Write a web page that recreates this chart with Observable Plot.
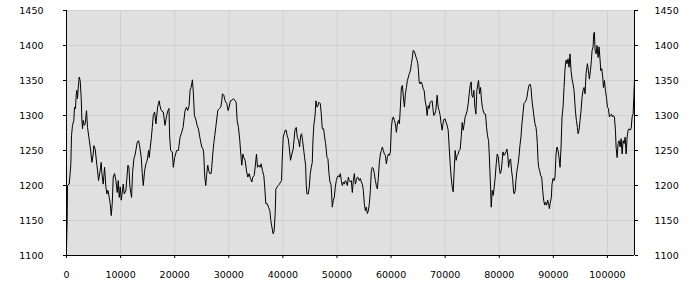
<!DOCTYPE html>
<html>
<head>
<meta charset="utf-8">
<script src="https://cdn.jsdelivr.net/npm/d3@7"></script>
<script src="https://cdn.jsdelivr.net/npm/@observablehq/plot@0.6"></script>
<style>
  html, body { margin: 0; padding: 0; background: #ffffff; }
  #chart { width: 700px; height: 300px; }
</style>
</head>
<body>
<div id="chart"></div>
<script>
const xTicks = [0, 10000, 20000, 30000, 40000, 50000, 60000, 70000, 80000, 90000, 100000];
const yTicks = [1100, 1150, 1200, 1250, 1300, 1350, 1400, 1450];

const xs = [
0,123,185,494,617,802,926,1111,1357,1481,
1666,1789,1913,2036,2160,2345,2530,2715,2838,2962,
3085,3270,3455,3702,3887,4134,4442,4689,4936,5059,
5306,5491,5738,5923,6170,6293,6417,6540,6787,7034,
7281,7466,7651,7898,8083,8268,8453,8638,8885,9132,
9378,9564,9749,9934,10119,10489,10674,10983,11353,11538,
11723,12032,12217,12463,12710,13080,13327,13512,13821,14006,
14191,14438,14685,14931,15178,15302,15487,15672,15857,16042,
16289,16536,16844,17153,17276,17523,17893,18202,18510,18757,
18942,19065,19250,19559,19744,19991,20361,
20683,20992,21300,21547,21732,21917,22164,22411,22657,22843,
23028,23151,23275,23460,23645,23891,24138,24385,24694,25002,
25249,25372,25557,25742,25928,26113,26298,26483,26730,26853,
27038,27223,27408,27593,27779,27964,28272,28519,28704,28827,
29074,29321,29630,29876,30061,30308,30617,30864,31172,31357,
31542,31789,32036,32221,32406,32591,32776,33023,33270,33517,
33763,34010,34257,34442,34689,34874,35121,35306,35553,35800,
35985,36232,36478,36602,36849,37095,37342,37589,37774,37959,
38206,38391,38576,38700,38946,39131,39378,39563,39748,39872,
40058,40243,40427,40612,40797,40982,41167,41414,41661,41908,
42226,42473,42658,42905,43090,43275,43460,43645,43830,44015,
44200,44324,44447,44694,44879,45064,45249,45434,45558,45743,
45928,46113,46298,46483,46668,46915,47100,47285,47532,47717,
47902,48149,48334,48519,48704,48889,49013,49136,49321,49506,
49692,49877,50062,50247,50432,50617,50802,50987,51172,51357,
51543,51728,51913,52098,52283,52468,52653,52838,53023,53208,
53394,53579,53764,53949,54134,54319,54504,54689,54874,55059,
55245,55430,55615,55800,55985,56170,56355,56540,56726,56911,
57096,57281,57466,57651,57836,58021,58206,58391,58577,58762,
58947,59132,59317,59502,59687,59872,60057,60242,60428,60613,
60798,60983,61168,61353,61538,61723,61908,62093,62279,62464,
62649,62834,63019,63204,63389,63574,63759,63944,
64077,64262,64447,64632,64817,64941,65064,65188,65373,65558,
65743,65928,66113,66298,66483,66668,66854,67039,67224,67409,
67594,67779,67902,68088,68273,68519,68705,68890,69075,69260,
69445,69630,69815,70000,70185,70370,70556,70741,70926,71111,
71296,71481,71666,71851,72036,72221,72407,72592,72777,72962,
73147,73332,73517,73702,73887,74072,74258,74443,74628,74813,
74936,75121,75306,75492,75677,75862,76047,76170,76355,76540,
76726,76911,77096,77281,77466,77651,77836,78021,78145,78268,
78391,78515,78700,78885,79070,79255,79440,79625,79811,79996,
80181,80366,80551,80674,80859,81045,81230,81415,81600,81723,
81908,82093,82279,82464,82649,82772,82957,83081,83266,83451,
83636,83821,84006,84191,84376,84561,84747,84932,85117,85302,
85487,
85681,85866,86051,86236,86421,86607,86792,86915,87038,87162,
87285,87470,87655,87841,88026,88211,88396,88581,88766,88951,
89136,89260,89445,89630,89753,89938,90123,90309,90494,90679,
90864,91049,91234,91419,91604,91789,91974,92160,92345,92530,
92715,92900,93085,93270,93455,93640,93825,93949,94072,94257,
94442,94566,94751,94936,95121,95306,95491,95676,95862,96047,
96293,96479,96664,96849,97034,97157,97342,97466,97589,97713,
97898,98083,98268,98453,98638,98761,98947,99132,99255,99440,
99625,99810,99995,100181,100366,100551,100736,100921,101106,101291,
101476,101600,101785,101970,102155,102340,102525,102710,102895,103080,
103266,103451,103636,103821,104006,104191,104376,104561,104746,104869,
104993
];

const ys = [
1112,1150,1200,1202,1212,1231,1271,1286,1293,1312,
1310,1329,1336,1324,1338,1355,1350,1326,1295,1281,
1293,1286,1288,1307,1283,1269,1252,1233,1245,1257,
1252,1238,1221,1207,1219,1226,1233,1217,1202,1226,
1198,1188,1193,1183,1174,1157,1174,1212,1217,1207,
1190,1207,1183,1198,1179,1202,1188,1193,1229,1226,
1198,1183,1219,1238,1245,1262,1264,1257,1240,1217,
1200,1221,1231,1236,1250,1240,1255,1267,1283,1300,
1305,1288,1312,1321,1314,1307,1305,1286,1300,1307,
1310,1271,1250,1248,1226,1240,1250,
1250,1269,1276,1283,1295,1307,1312,1307,1314,1336,
1340,1345,1351,1331,1300,1295,1286,1281,1267,1255,
1252,1245,1212,1200,1217,1229,1221,1217,1217,1226,
1245,1260,1271,1283,1295,1307,1310,1312,1321,1331,
1329,1321,1317,1307,1312,1321,1322,1324,1321,1319,
1293,1283,1264,1245,1229,1245,1240,1236,1221,1212,
1217,1210,1205,1212,1214,1226,1245,1226,1229,1226,
1231,1221,1214,1202,1174,1174,1169,1164,1150,1141,
1131,1136,1160,1195,1198,1200,1202,1205,1207,1236,
1269,1274,1279,1279,1271,1267,1255,1236,1245,1252,
1279,1283,1269,1264,1255,1271,1274,1264,1252,1240,
1229,1200,1188,1188,1198,1217,1226,1233,1264,1288,
1298,1321,1312,1314,1319,1317,1302,1281,1281,1269,
1260,1240,1238,1217,1205,1202,1188,1169,1179,1183,
1198,1207,1212,1214,1212,1217,1207,1200,1205,1202,
1207,1205,1200,1212,1207,1205,1207,1190,1207,1217,
1202,1207,1212,1211,1207,1210,1205,1202,1193,1174,
1164,1169,1160,1164,1174,1193,1221,1226,1224,1217,
1207,1200,1195,1212,1233,1245,1250,1255,1250,1245,
1243,1231,1240,1245,1243,1248,1283,1295,1298,1293,
1288,1276,1288,1293,1288,1312,1340,1343,1326,1312,
1331,1340,1350,1355,1360,1364,1374,1383,
1393,1392,1388,1383,1379,1374,1364,1348,1345,1348,
1345,1338,1336,1321,1314,1300,1314,1310,1319,1320,
1321,1307,1300,1302,1307,1329,1312,1307,1300,1288,
1279,1290,1295,1295,1290,1286,1279,1255,1231,1212,
1198,1191,1221,1250,1236,1243,1245,1250,1252,1269,
1290,1279,1288,1298,1302,1307,1317,1331,1343,1348,
1329,1326,1336,1312,1302,1336,1345,1350,1331,1340,
1321,1310,1305,1302,1302,1283,1271,1264,1245,1221,
1198,1169,1193,1186,1198,1212,1231,1245,1241,1226,
1217,1221,1236,1248,1243,1245,1248,1252,1241,1226,
1236,1238,1221,1210,1191,1188,1193,1207,1221,1229,
1241,1257,1269,1288,1302,1317,1319,1321,1326,1336,
1343,
1345,1340,1321,1310,1298,1288,1283,1274,1260,1236,
1226,1221,1214,1212,1193,1179,1172,1176,1172,1179,
1174,1167,1176,1183,1202,1210,1207,1212,1245,1255,
1250,1240,1226,1255,1298,1312,1340,1367,1379,1374,
1381,1369,1388,1364,1352,1345,1336,1321,1307,1293,
1283,1274,1279,1293,1307,1326,1336,1340,1331,1360,
1374,1364,1352,1364,1379,1393,1398,1417,1419,1393,
1388,1400,1383,1398,1379,1364,1367,1355,1340,1350,
1336,1326,1312,1310,1298,1300,1302,1298,1300,1298,
1279,1255,1240,1260,1264,1255,1267,1245,1264,1260,
1269,1245,1269,1279,1281,1279,1281,1298,1302,1326,
1350
];

const n = Math.min(xs.length, ys.length);
const data = d3.range(n).map(i => ({x: xs[i], y: ys[i]}));

const chart = Plot.plot({
  width: 700,
  height: 300,
  marginLeft: 66,
  marginRight: 66,
  marginTop: 10,
  marginBottom: 45,
  style: {fontFamily: "'DejaVu Sans', sans-serif", fontSize: "9.5px", background: "#ffffff", color: "#000000"},
  x: {domain: [0, 105000], label: null},
  y: {domain: [1100, 1450], label: null},
  marks: [
    Plot.frame({fill: "#e0e0e0", stroke: null}),
    Plot.gridX(xTicks, {stroke: "#d0d0d0", strokeOpacity: 1}),
    Plot.gridY(yTicks, {stroke: "#d0d0d0", strokeOpacity: 1}),
    Plot.line(data, {x: "x", y: "y", stroke: "#000000", strokeWidth: 1}),
    Plot.ruleX([0], {stroke: "#000000"}),
    Plot.ruleX([105000], {stroke: "#000000"}),
    Plot.ruleY([1100], {stroke: "#000000"}),
    Plot.axisY(yTicks, {anchor: "left", tickSize: 3, tickPadding: 20, tickFormat: d => String(d), label: null}),
    Plot.axisY(yTicks, {anchor: "right", tickSize: 3, tickPadding: 17, tickFormat: d => String(d), label: null}),
    Plot.axisX(xTicks, {anchor: "bottom", tickSize: 3, tickPadding: 13, tickFormat: d => String(d), label: null})
  ]
});
document.getElementById("chart").appendChild(chart);
</script>
</body>
</html>
